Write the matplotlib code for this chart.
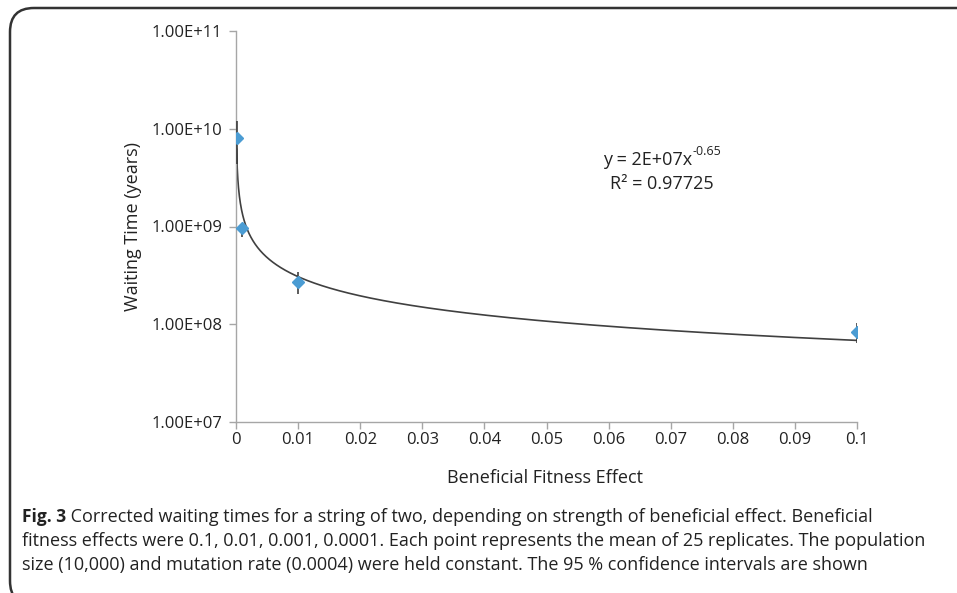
import numpy as np
import matplotlib
matplotlib.use('Agg')
import matplotlib.pyplot as plt
from matplotlib.patches import FancyBboxPatch
from matplotlib.ticker import FixedLocator, FuncFormatter, NullLocator

# values
fitness = [0.0001, 0.001, 0.01, 0.1]
wait_mean = [8.1e9, 9.7e8, 2.73e8, 8.3e7]
wait_low = [4.4e9, 7.9e8, 2.06e8, 6.4e7]
wait_high = [1.2e10, 1.03e9, 3.45e8, 1.03e8]

x_ticks = [0, 0.01, 0.02, 0.03, 0.04, 0.05, 0.06, 0.07, 0.08, 0.09, 0.1]
y_ticks = [1e7, 1e8, 1e9, 1e10, 1e11]

caption_bold = "Fig. 3"
caption_lines = [
    " Corrected waiting times for a string of two, depending on strength of beneficial effect. Beneficial",
    "fitness effects were 0.1, 0.01, 0.001, 0.0001. Each point represents the mean of 25 replicates. The population",
    "size (10,000) and mutation rate (0.0004) were held constant. The 95 % confidence intervals are shown",
]

chart_font = ['Open Sans', 'DejaVu Sans']
txt_col = '#222222'
axis_grey = '#a6a6a6'

W, H = 957, 593
fig = plt.figure(figsize=(W / 100, H / 100), dpi=100)
ax = fig.add_axes([236 / W, 1 - 422 / H, (857 - 236) / W, (422 - 31) / H])

# power trendline fitted on log-log, as the spreadsheet does
slope, icpt = np.polyfit(np.log10(fitness), np.log10(wait_mean), 1)
xs = np.linspace(min(fitness), max(fitness), 2000)
ax.plot(xs, 10 ** icpt * xs ** slope, color='#404040', lw=1.2, zorder=2)

yerr = [np.array(wait_mean) - np.array(wait_low), np.array(wait_high) - np.array(wait_mean)]
ax.errorbar(fitness, wait_mean, yerr=yerr, fmt='none', ecolor='#303030', elinewidth=1.1, capsize=0, zorder=3)
ax.plot(fitness, wait_mean, ls='none', marker='D', ms=6.5, color='#4b9cd3', mec='#4b9cd3', zorder=4)

ax.set_yscale('log')
ax.set_xlim(0, 0.1)
ax.set_ylim(1e7, 1e11)
ax.xaxis.set_major_locator(FixedLocator(x_ticks))
ax.xaxis.set_major_formatter(FuncFormatter(lambda v, p: '0' if v == 0 else ('%g' % round(v, 2))))
ax.yaxis.set_major_locator(FixedLocator(y_ticks))
ax.yaxis.set_minor_locator(NullLocator())
ax.yaxis.set_major_formatter(FuncFormatter(lambda v, p: '1.00E+%02d' % int(round(np.log10(v)))))

for s in ['top', 'right']:
    ax.spines[s].set_visible(False)
for s in ['left', 'bottom']:
    ax.spines[s].set_color(axis_grey)
    ax.spines[s].set_linewidth(1.0)
ax.tick_params(axis='both', which='major', direction='out', length=5, width=1, color=axis_grey,
               labelsize=12, labelcolor=txt_col)
for lab in ax.get_xticklabels() + ax.get_yticklabels():
    lab.set_family(chart_font)
ax.tick_params(axis='y', pad=5)
ax.tick_params(axis='x', pad=2)

fig.text(133 / W, 1 - 227 / H, 'Waiting Time (years)', rotation=90, ha='center', va='center',
         fontsize=13, family=chart_font, color=txt_col)
fig.text(545 / W, 1 - 478 / H, 'Beneficial Fitness Effect', ha='center', va='center',
         fontsize=13, family=chart_font, color=txt_col)

r = fig.canvas.get_renderer()

# trendline equation, exponent drawn as a raised smaller text
eq = fig.text(603 / W, 1 - 160 / H, 'y = 2E+07x', ha='left', va='center',
              fontsize=13, family=chart_font, color=txt_col)
eb = eq.get_window_extent(renderer=r)
fig.text(eb.x1 / W, 1 - 152 / H, '-0.65', ha='left', va='center',
         fontsize=9, family=chart_font, color=txt_col)
fig.text(662 / W, 1 - 184 / H, 'R² = 0.97725', ha='center', va='center',
         fontsize=13, family=chart_font, color=txt_col)

# caption
t0 = fig.text(22 / W, 1 - 517 / H, caption_bold, ha='left', va='center', fontsize=12.5,
              weight='bold', family=chart_font, color=txt_col)
bb = t0.get_window_extent(renderer=r)
fig.text(bb.x1 / W, 1 - 517 / H, caption_lines[0], ha='left', va='center', fontsize=13,
         family=chart_font, color=txt_col)
fig.text(22 / W, 1 - 541 / H, caption_lines[1], ha='left', va='center', fontsize=13,
         family=chart_font, color=txt_col)
fig.text(22 / W, 1 - 565 / H, caption_lines[2], ha='left', va='center', fontsize=13,
         family=chart_font, color=txt_col)

# rounded frame round the figure
frame = FancyBboxPatch((10 / W, -0.02), 1.1, 1 - 8 / H + 0.02, boxstyle='round,pad=0,rounding_size=0.025',
                       transform=fig.transFigure, fill=False, lw=1.8, ec='#333333', clip_on=False,
                       mutation_aspect=W / H)
fig.patches.append(frame)

fig.savefig('out.png', dpi=100)
